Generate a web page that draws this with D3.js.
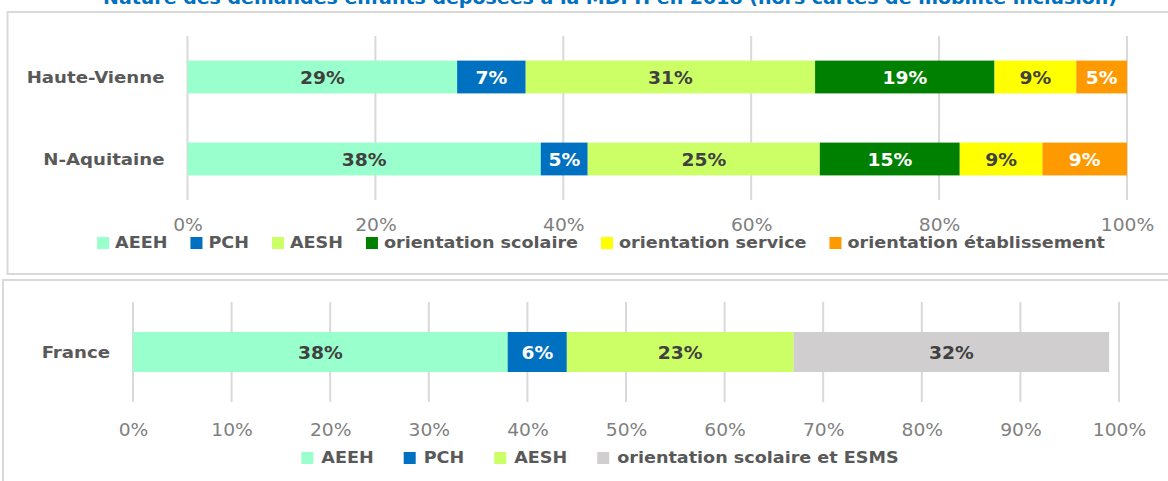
<!DOCTYPE html>
<html>
<head>
<meta charset="utf-8">
<script src="https://cdn.jsdelivr.net/npm/d3@7"></script>
<style>
  body { margin: 0; background: #fff; }
  svg { display: block; font-family: "DejaVu Sans", Verdana, sans-serif; }
</style>
</head>
<body>
<svg id="chart" width="1168" height="481"></svg>
<script>
// data
const title = "Nature des demandes enfants déposées à la MDPH en 2018 (hors cartes de mobilité inclusion)";

const topRegions = ["Haute-Vienne", "N-Aquitaine"];
const topSeries = ["AEEH", "PCH", "AESH", "orientation scolaire", "orientation service", "orientation établissement"];
const topColors = ["#99FFCC", "#0070C0", "#CCFF66", "#008000", "#FFFF00", "#FF9900"];
const topLabelColors = ["#404040", "#fff", "#404040", "#fff", "#404040", "#fff"];
const hauteVienne = [28.7, 7.3, 30.8, 19.1, 8.7, 5.4];
const nAquitaine = [37.6, 5.0, 24.7, 14.9, 8.8, 9.0];
const topTicks = [0, 20, 40, 60, 80, 100];

const botRegions = ["France"];
const botSeries = ["AEEH", "PCH", "AESH", "orientation scolaire et ESMS"];
const botColors = ["#99FFCC", "#0070C0", "#CCFF66", "#D0CECE"];
const botLabelColors = ["#404040", "#fff", "#404040", "#404040"];
const france = [38, 6, 23, 32];
const botTicks = [0, 10, 20, 30, 40, 50, 60, 70, 80, 90, 100];

const SX = 1.1; // the source text is a bit wider than DejaVu
const svg = d3.select("#chart");

function stretch(sel) {
  sel.each(function () {
    const t = d3.select(this);
    const x = +t.attr("x") || 0, y = +t.attr("y") || 0;
    t.attr("x", 0).attr("y", 0).attr("transform", `translate(${x},${y}) scale(${SX},1)`);
  });
}

// title, cut off by the top of the picture
svg.append("text")
  .attr("x", 610).attr("y", 4)
  .attr("text-anchor", "middle")
  .attr("font-size", "17px").attr("font-weight", "bold")
  .attr("fill", "#0070C0")
  .attr("textLength", 1014).attr("lengthAdjust", "spacingAndGlyphs")
  .text(title);

// panel frames
svg.append("rect").attr("x", 7.5).attr("y", 12).attr("width", 1200).attr("height", 262)
  .attr("fill", "none").attr("stroke", "#d9d9d9").attr("stroke-width", 2);
svg.append("rect").attr("x", 3).attr("y", 280).attr("width", 1200).attr("height", 230)
  .attr("fill", "none").attr("stroke", "#d9d9d9").attr("stroke-width", 2);

function drawPanel(opt) {
  const { regions, rows, series, colors, labelColors, ticks, x0, x1, y0, y1, tickPad,
          legendY, legendCx, legendGap, swatchGap } = opt;
  const g = svg.append("g");

  const x = d3.scaleLinear().domain([0, 100]).range([x0, x1]);
  const y = d3.scaleBand().domain(regions).range([y0, y1]).paddingInner(0.6).paddingOuter(0.3);

  // gridlines
  g.selectAll(".grid")
    .data(ticks)
    .enter().append("line")
    .attr("x1", d => x(d)).attr("x2", d => x(d))
    .attr("y1", y0).attr("y2", y1)
    .attr("stroke", "#d9d9d9").attr("stroke-width", 2);

  // stacked bars
  regions.forEach((r, i) => {
    const vals = rows[i];
    let acc = 0;
    const segs = vals.map((v, j) => {
      const s = { key: series[j], start: acc, end: acc + v, v, j };
      acc += v;
      return s;
    });
    g.selectAll(".seg" + i)
      .data(segs)
      .enter().append("rect")
      .attr("x", d => x(d.start))
      .attr("y", y(r))
      .attr("width", d => x(d.end) - x(d.start))
      .attr("height", y.bandwidth())
      .attr("fill", d => colors[d.j]);

    g.selectAll(".lab" + i)
      .data(segs)
      .enter().append("text")
      .attr("x", d => (x(d.start) + x(d.end)) / 2)
      .attr("y", y(r) + y.bandwidth() / 2 + 6.5)
      .attr("text-anchor", "middle")
      .attr("font-size", "17px").attr("font-weight", "bold")
      .attr("fill", d => labelColors[d.j])
      .text(d => Math.round(d.v) + "%")
      .call(stretch);
  });

  // category labels
  g.selectAll(".cat")
    .data(regions)
    .enter().append("text")
    .attr("x", x0 - 23)
    .attr("y", d => y(d) + y.bandwidth() / 2 + 6)
    .attr("text-anchor", "end")
    .attr("font-size", "16.5px").attr("font-weight", "bold")
    .attr("fill", "#595959")
    .text(d => d)
    .call(stretch);

  // tick labels
  const ax = g.append("g")
    .attr("transform", `translate(0,${y1})`)
    .call(d3.axisBottom(x).tickValues(ticks).tickSize(0).tickPadding(tickPad).tickFormat(d => d + "%"));
  ax.select(".domain").remove();
  ax.selectAll("text")
    .attr("font-family", "DejaVu Sans")
    .attr("font-size", "17px")
    .attr("fill", "#808080")
    .attr("transform", `scale(${SX},1)`);

  // legend
  const lg = g.append("g");
  const items = lg.selectAll(".item")
    .data(series)
    .enter().append("g");
  items.append("rect")
    .attr("width", 12).attr("height", 12)
    .attr("y", legendY - 11)
    .attr("fill", (d, j) => colors[j]);
  items.append("text")
    .attr("x", 12 + swatchGap).attr("y", legendY)
    .attr("font-size", "16px").attr("font-weight", "bold")
    .attr("fill", "#595959")
    .text(d => d)
    .call(stretch);
  let cx = 0;
  items.each(function () {
    const w = 12 + swatchGap + d3.select(this).select("text").node().getComputedTextLength() * SX;
    d3.select(this).attr("transform", `translate(${cx},0)`);
    cx += w + legendGap;
  });
  const total = cx - legendGap;
  lg.attr("transform", `translate(${legendCx - total / 2},0)`);
}

drawPanel({
  regions: topRegions, rows: [hauteVienne, nAquitaine],
  series: topSeries, colors: topColors, labelColors: topLabelColors, ticks: topTicks,
  x0: 187.5, x1: 1127, y0: 36, y1: 200, tickPad: 19,
  legendY: 248, legendCx: 601, legendGap: 23, swatchGap: 6
});

drawPanel({
  regions: botRegions, rows: [france],
  series: botSeries, colors: botColors, labelColors: botLabelColors, ticks: botTicks,
  x0: 133, x1: 1119, y0: 302, y1: 402, tickPad: 22,
  legendY: 463, legendCx: 600, legendGap: 30, swatchGap: 8
});
</script>
</body>
</html>
